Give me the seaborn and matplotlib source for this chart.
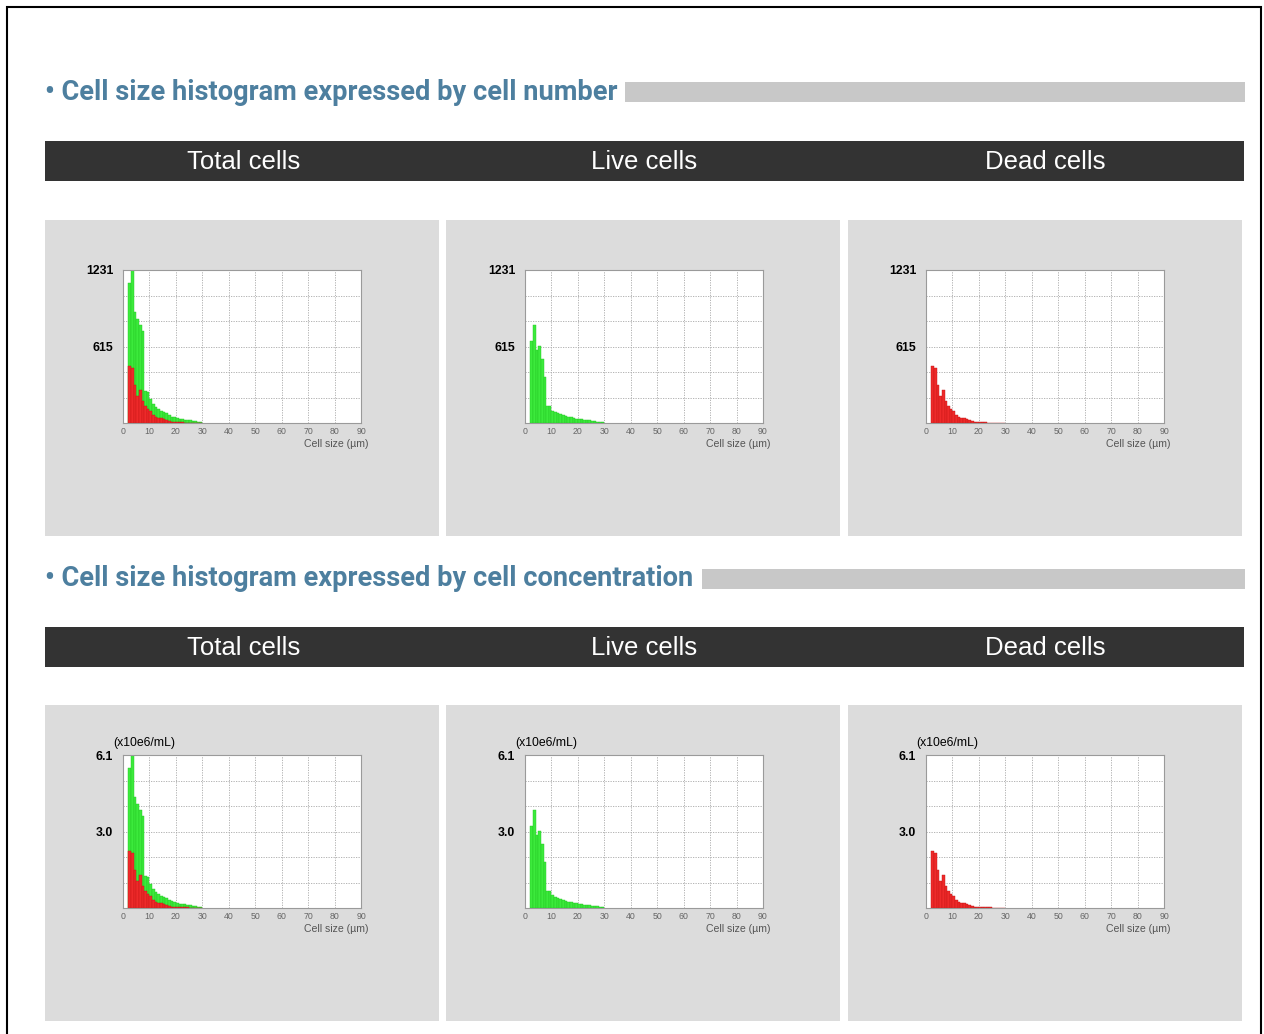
import numpy as np
import matplotlib
matplotlib.use("Agg")
import matplotlib.pyplot as plt
from matplotlib.patches import Rectangle
from matplotlib.transforms import ScaledTranslation
import seaborn as sns

sns.set_theme(style="white")
plt.rcParams['font.family'] = ['Liberation Sans', 'DejaVu Sans']

# ---------------- data ----------------
bin_left = [2, 3, 4, 5, 6, 7, 8, 9, 10, 11, 12, 13, 14, 15, 16, 17, 18, 19,
            20, 21, 22, 23, 24, 25, 26, 27, 28, 29]   # cell size bins (µm), width 1

total_count = [1124, 1231, 893, 840, 790, 740, 260, 250, 190, 155, 125, 110, 98, 88,
               77, 62, 52, 45, 40, 35, 32, 28, 25, 21, 18, 15, 11, 8]
live_count = [656, 790, 585, 620, 518, 370, 134, 140, 100, 88, 78, 70, 62, 56,
              50, 45, 40, 36, 33, 30, 27, 24, 21, 18, 15, 12, 9, 6]
dead_count = [460, 442, 308, 214, 268, 174, 134, 112, 94, 67, 45, 40, 37, 32,
              27, 16, 11, 8, 6, 5, 5, 4, 4, 3, 3, 3, 2, 2]

total_conc = [5.57, 6.10, 4.42, 4.16, 3.91, 3.67, 1.29, 1.24, 0.94, 0.77, 0.62, 0.55, 0.49, 0.44,
              0.38, 0.31, 0.26, 0.22, 0.20, 0.17, 0.16, 0.14, 0.12, 0.10, 0.09, 0.07, 0.05, 0.04]
live_conc = [3.25, 3.91, 2.90, 3.07, 2.57, 1.83, 0.66, 0.69, 0.50, 0.44, 0.39, 0.35, 0.31, 0.28,
             0.25, 0.22, 0.20, 0.18, 0.16, 0.15, 0.13, 0.12, 0.10, 0.09, 0.07, 0.06, 0.04, 0.03]
dead_conc = [2.28, 2.19, 1.53, 1.06, 1.33, 0.86, 0.66, 0.55, 0.47, 0.33, 0.22, 0.20, 0.18, 0.16,
             0.13, 0.08, 0.05, 0.04, 0.03, 0.02, 0.02, 0.02, 0.02, 0.01, 0.01, 0.01, 0.01, 0.01]

count_max = 1231
count_labels = ['', '', '', '615', '', '', '1231']
conc_max = 6.1
conc_labels = ['', '', '', '3.0', '', '', '6.1']
x_ticks = [0, 10, 20, 30, 40, 50, 60, 70, 80, 90]

section_titles = ["\u2022 Cell size histogram expressed by cell number",
                  "\u2022 Cell size histogram expressed by cell concentration"]
column_titles = ["Total cells", "Live cells", "Dead cells"]
x_label = "Cell size (\u00b5m)"
conc_unit = "(x10e6/mL)"

# ---------------- layout ----------------
W, H = 1264, 1034
fig = plt.figure(figsize=(W / 100, H / 100), dpi=100)
fig.patch.set_facecolor("white")

GREEN = "#3cea3c"
GREEN_E = "#22c422"
RED = "#ee2a2a"
RED_E = "#c41414"
TITLE_C = "#4d7f9f"
HEADER_C = "#333333"
PANEL_C = "#dcdcdc"


def frect(px, py, w, h):
    return [px / W, 1 - (py + h) / H, w / W, h / H]


def add_rect(px, py, w, h, **kw):
    l, b, ww, hh = frect(px, py, w, h)
    fig.add_artist(Rectangle((l, b), ww, hh, transform=fig.transFigure, zorder=-10, **kw))


def ftext(px, py, s, **kw):
    fig.text(px / W, 1 - py / H, s, zorder=5, **kw)


# outer border
add_rect(7, 7, 1254, 1040, facecolor="none", edgecolor="black", linewidth=1.5)

panel_x = [45, 446, 848]
panel_w = 394
col_center = [244, 644, 1045]
axes_x = [123, 525, 926]
axes_w = 238

sections = [
    dict(title_y=92, bar_x=625, header_y=141, panel_y=220, axes_y=270,
         vals=[(total_count, dead_count), (live_count, None), (None, dead_count)],
         ymax=count_max, ylabels=count_labels, unit=None),
    dict(title_y=579, bar_x=702, header_y=627, panel_y=705, axes_y=755,
         vals=[(total_conc, dead_conc), (live_conc, None), (None, dead_conc)],
         ymax=conc_max, ylabels=conc_labels, unit=conc_unit),
]

title_font = ['Liberation Sans Narrow', 'Roboto', 'DejaVu Sans']
label_shift = ScaledTranslation(0, -3 / 100, fig.dpi_scale_trans)

for si, sec in enumerate(sections):
    # section title + grey rule
    ftext(45, sec["title_y"], section_titles[si], color=TITLE_C, fontsize=19.6,
          fontweight="bold", family=title_font, stretch="condensed", va="center", ha="left")
    add_rect(sec["bar_x"], sec["title_y"] - 10, 1245 - sec["bar_x"], 20,
             facecolor="#c8c8c8", edgecolor="none")
    # dark header
    add_rect(45, sec["header_y"], 1199, 40, facecolor=HEADER_C, edgecolor="none")
    for ci in range(3):
        ftext(col_center[ci], sec["header_y"] + 21, column_titles[ci], color="white",
              fontsize=18.5, va="center", ha="center")
        add_rect(panel_x[ci], sec["panel_y"], panel_w, 316, facecolor=PANEL_C, edgecolor="none")

    for ci in range(3):
        ax = fig.add_axes(frect(axes_x[ci], sec["axes_y"], axes_w, 153))
        green_vals, red_vals = sec["vals"][ci]
        if green_vals is not None:
            sns.histplot(x=np.array(bin_left) + 0.5, weights=green_vals,
                         binwidth=1, binrange=(2, 30), color=GREEN, alpha=1,
                         edgecolor=GREEN_E, linewidth=0.3, ax=ax)
        if red_vals is not None:
            sns.histplot(x=np.array(bin_left) + 0.5, weights=red_vals,
                         binwidth=1, binrange=(2, 30), color=RED, alpha=1,
                         edgecolor=RED_E, linewidth=0.3, ax=ax)
        ax.set_facecolor("white")
        ax.set_xlim(0, 90)
        ax.set_ylim(0, sec["ymax"])
        ax.set_xticks(x_ticks)
        ax.set_xticklabels([str(t) for t in x_ticks], fontsize=6.3, color="#666666")
        ax.set_yticks(np.linspace(0, sec["ymax"], 7))
        ax.set_yticklabels(sec["ylabels"], fontsize=8.8, fontweight="bold", color="black")
        for lab in ax.get_yticklabels():
            lab.set_transform(lab.get_transform() + label_shift)
        ax.tick_params(length=0, pad=3)
        ax.tick_params(axis="y", pad=7)
        ax.set_xlabel("")
        ax.set_ylabel("")
        ax.grid(True, color="#a8a8a8", linestyle=(0, (1.5, 1.5)), linewidth=0.6)
        ax.set_axisbelow(True)
        for sp in ax.spines.values():
            sp.set_color("#9a9a9a")
            sp.set_linewidth(0.8)
        ftext(axes_x[ci] + axes_w + 7, sec["axes_y"] + 174, x_label, fontsize=7.6,
              color="#555555", ha="right", va="center")
        if sec["unit"]:
            ftext(axes_x[ci] - 10, sec["axes_y"] - 12, sec["unit"], fontsize=8.8,
                  color="black", ha="left", va="center")

fig.savefig("out.png", dpi=100, facecolor="white")
